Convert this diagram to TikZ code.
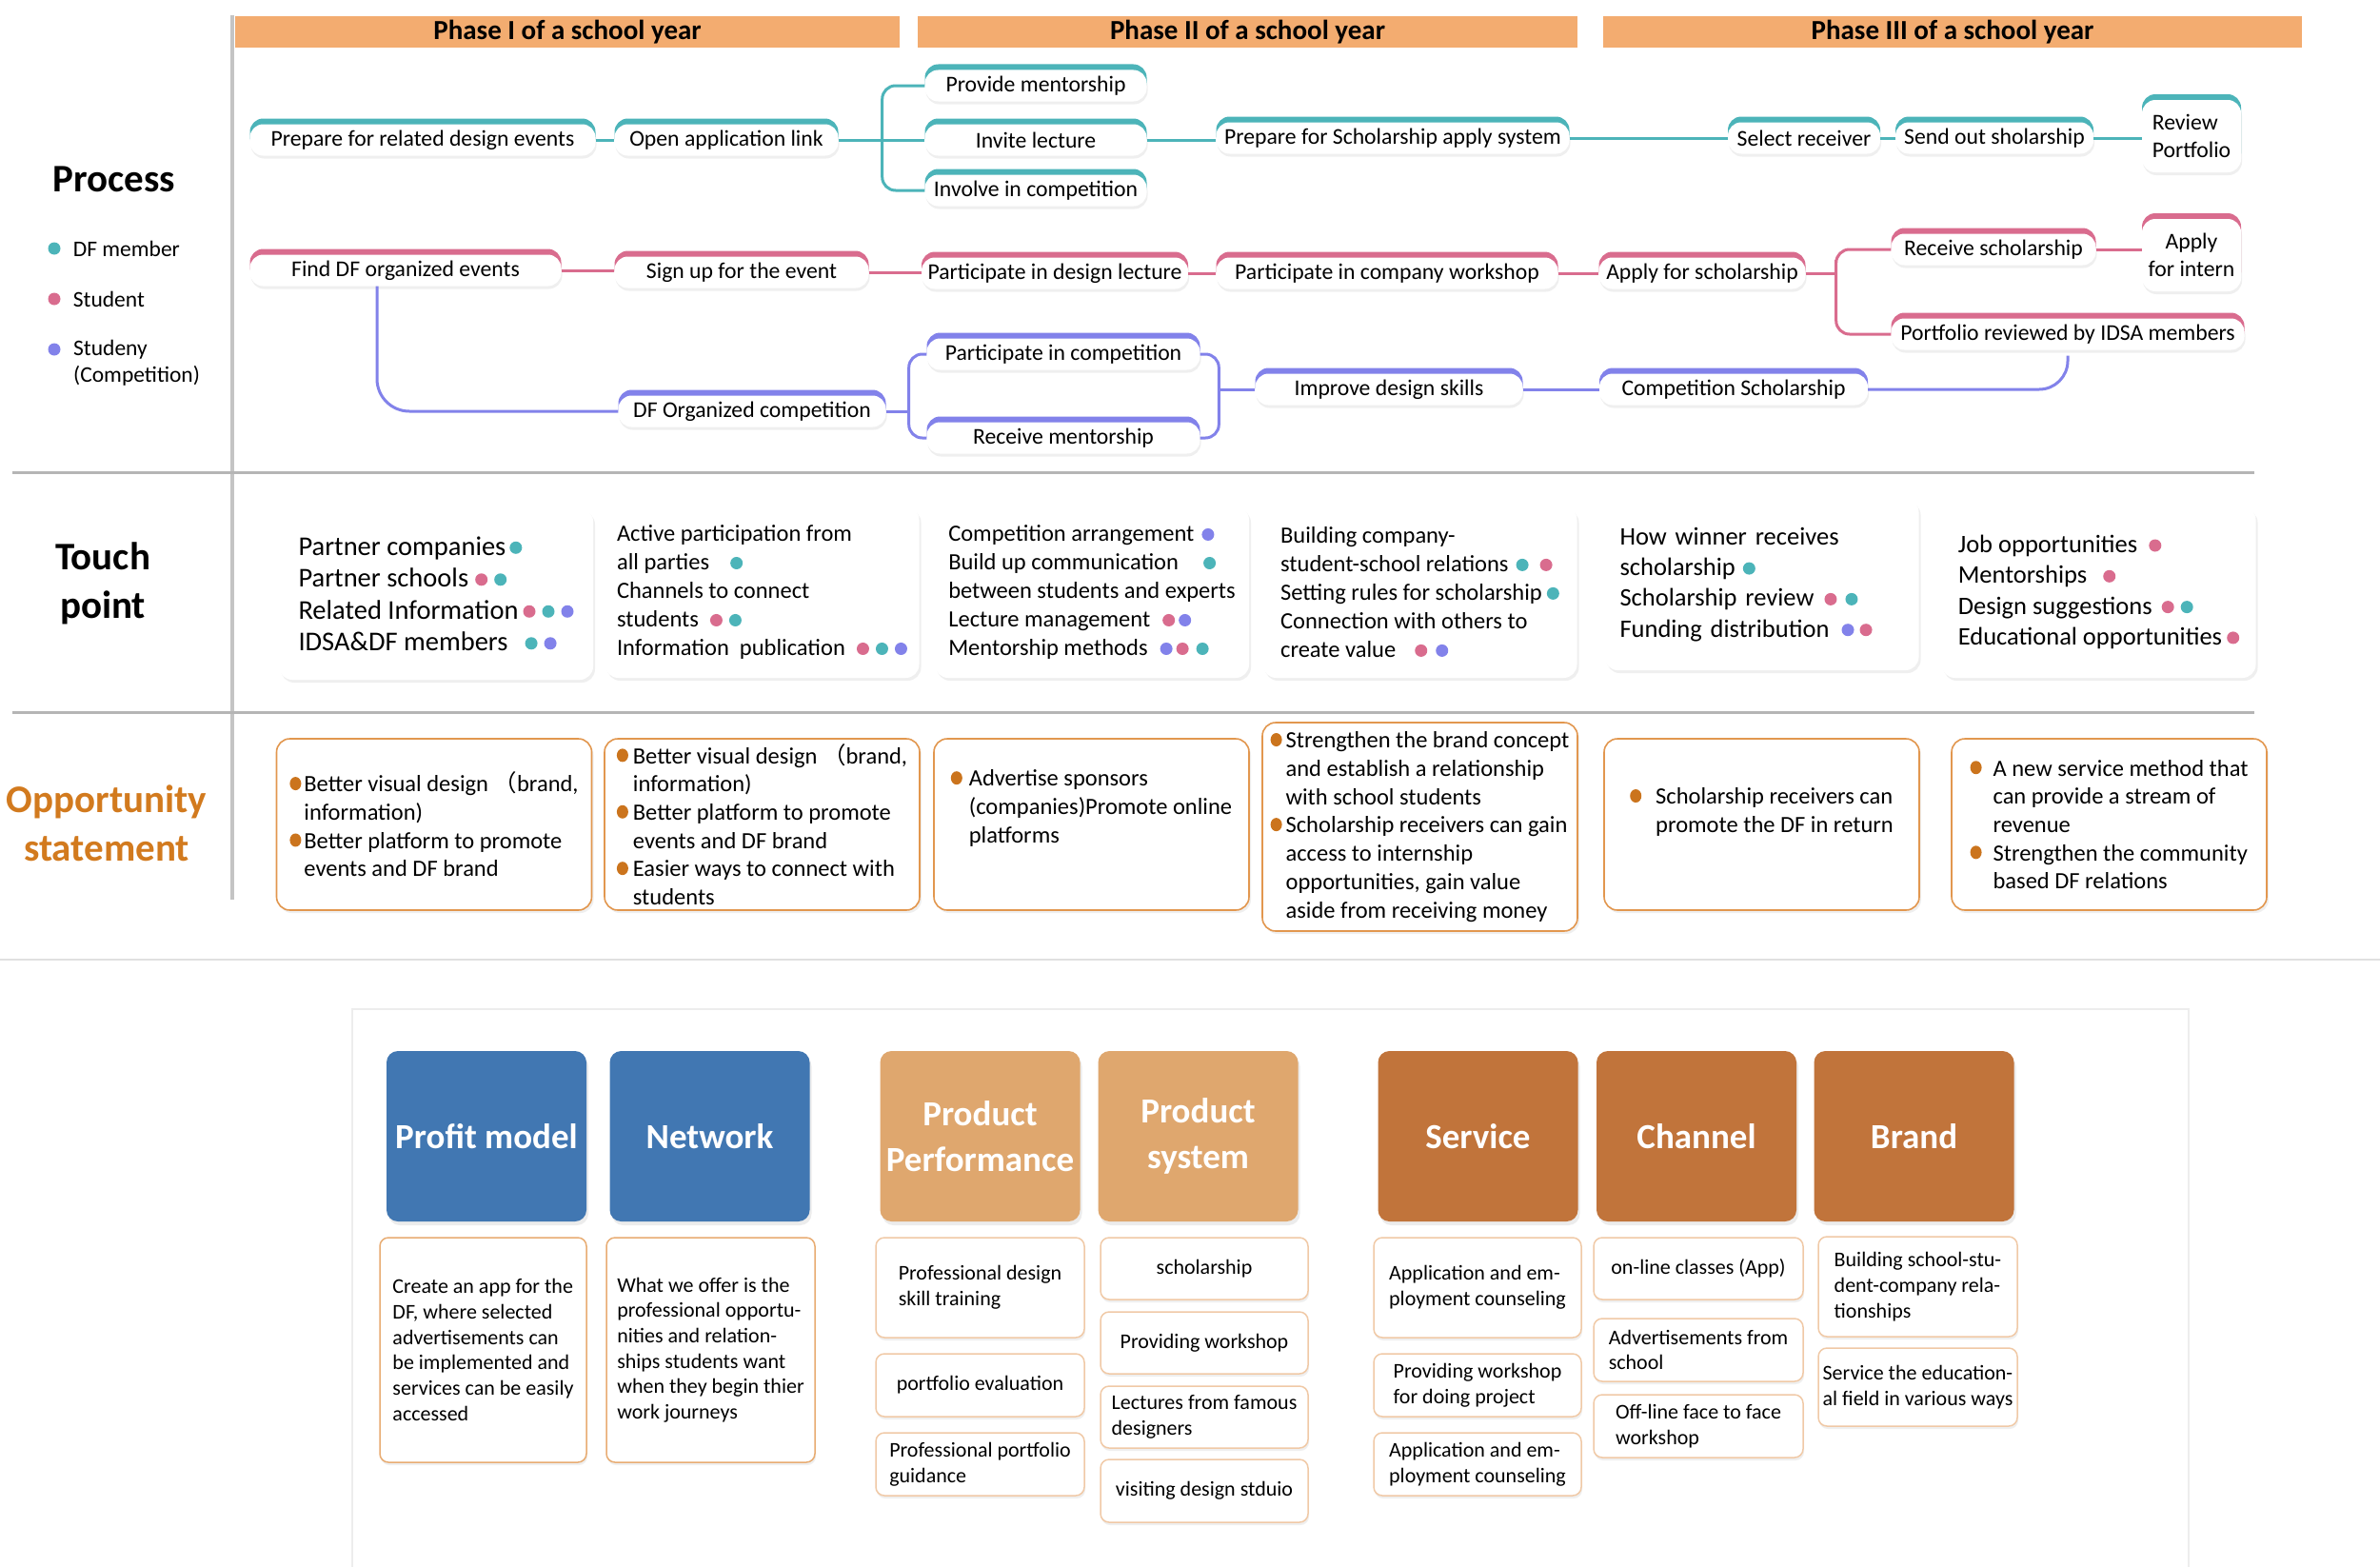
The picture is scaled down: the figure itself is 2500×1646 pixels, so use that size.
\documentclass[tikz,border=0pt]{standalone}
\usepackage{fontspec}
\setmainfont{Carlito}
\newfontfamily\cjk{Noto Sans CJK SC}
\usetikzlibrary{positioning, calc, shadows}
\usepackage{xcolor}
\definecolor{cTeal}{HTML}{4CB4B9}
\definecolor{cPink}{HTML}{D96C8E}
\definecolor{cPurple}{HTML}{8282EA}
\definecolor{cPhase}{HTML}{F3AC70}
\definecolor{cOppLine}{HTML}{E2974F}
\definecolor{cOppDot}{HTML}{CB741D}
\definecolor{cOppTitle}{HTML}{D27A1E}
\definecolor{cBlue}{HTML}{4177B2}
\definecolor{cTan}{HTML}{DFA76E}
\definecolor{cBrown}{HTML}{C1743B}
\definecolor{cCardLine}{HTML}{F0C9A6}
\definecolor{cRule}{HTML}{B5B5B5}

\newcommand\fProc{\fontsize{23.7}{28.5}\selectfont}
\newcommand\fTouch{\fontsize{24.5}{30}\selectfont}
\newcommand\fOpp{\fontsize{24.5}{29.7}\selectfont}
\newcommand\fCard{\fontsize{22}{26.7}\selectfont}
\newcommand\fLane{\fontsize{41}{51}\selectfont\bfseries}
\newcommand\fHead{\fontsize{37}{48}\selectfont\bfseries}
% coloured dots after touch point texts, bullets in the opportunity boxes
\newcommand\tdot[2][7pt]{\hspace{#1}\tikz[baseline=-0.6ex]\fill[#2] (0,0) circle (6.5pt);}
\newcommand\obul[1][17pt]{\makebox[#1][l]{\tikz[baseline=-0.75ex]\fill[cOppDot] (0,0) ellipse (6pt and 7pt);}}
\newcommand\oind[1][17pt]{\hspace*{#1}}

\tikzset{
  pnode/.style={
    fill=white, rounded corners=14pt, font=\fProc, align=center,
    minimum height=33pt, inner sep=0pt,
    drop shadow={opacity=0.12, shadow xshift=1pt, shadow yshift=-3pt},
    general shadow={fill=#1, shadow xshift=0pt, shadow yshift=6pt},
  },
  link/.style={draw=#1, line width=3pt},
  phasebar/.style={
    fill=cPhase, font=\fontsize{29}{33}\selectfont\bfseries,
    minimum height=33pt, inner sep=0pt,
  },
  lanetitle/.style={font=\fLane, align=center, inner sep=0pt},
  legdot/.style={circle, fill=#1, minimum size=13pt, inner sep=0pt},
  legtxt/.style={font=\fontsize{23.5}{28}\selectfont, inner sep=0pt, align=left},
  tbox/.style={
    fill=white, rounded corners=14pt, align=left, font=\fTouch,
    minimum width=330pt, minimum height=180pt, inner sep=0pt,
    drop shadow={opacity=0.12, shadow xshift=2pt, shadow yshift=-3pt},
  },
  obox/.style={
    draw=cOppLine, line width=1.6pt, fill=white, rounded corners=14pt,
    align=left, font=\fOpp, minimum width=331pt, minimum height=180pt,
    inner sep=0pt,
    drop shadow={opacity=0.12, shadow xshift=2pt, shadow yshift=-3pt},
  },
  hbox/.style={
    fill=#1, rounded corners=12pt, text=white, font=\fHead, align=center,
    minimum width=210pt, minimum height=179pt, inner sep=0pt,
    drop shadow={opacity=0.15, shadow xshift=2pt, shadow yshift=-4pt},
  },
  card/.style={
    draw=cCardLine, line width=1.5pt, fill=white, rounded corners=9pt,
    font=\fCard, align=left, inner sep=0pt,
    drop shadow={opacity=0.12, shadow xshift=1pt, shadow yshift=-3pt},
  },
  seprule/.style={draw=cRule, line width=3pt},
}

\begin{document}
\begin{tikzpicture}[x=1pt, y=-1pt]

  \path[use as bounding box, fill=white] (0,0) rectangle (2500,1646);

  % frame lines
  \draw[draw=cRule!80, line width=4pt] (244,16) -- (244,945);
  \draw[seprule] (13,496) -- (2368,496);
  \draw[seprule] (13,748) -- (2368,748);
  \draw[draw=black!12, line width=1.5pt] (0,1008) -- (2500,1008);
  \draw[draw=black!7, line width=1.5pt] (370,1646) -- (370,1060) -- (2299,1060) -- (2299,1646);

  % phases
  \node[phasebar, minimum width=698pt] (ph1) at (596,33.5) {Phase I of a school year};
  \node[phasebar, minimum width=693pt] (ph2) at (1310.5,33.5) {Phase II of a school year};
  \node[phasebar, minimum width=734pt] (ph3) at (2051,33.5) {Phase III of a school year};

  % lane titles and legend
  \node[lanetitle] (lProc) at (120,188) {Process};
  \node[lanetitle] (lTouch) at (108,613) {Touch\\point};
  \node[lanetitle, text=cOppTitle] (lOpp) at (112,865) {Opportunity\\statement};

  \node[legdot=cTeal] (lgDF) at (57,261) {};
  \node[legdot=cPink] (lgSt) at (57,314) {};
  \node[legdot=cPurple] (lgCo) at (57,367) {};
  \node[legtxt, right=13pt of lgDF] (lgDFt) {DF member};
  \node[legtxt, right=13pt of lgSt] (lgStt) {Student};
  \node[legtxt, anchor=west] (lgCot) at (77,381) {Studeny\\(Competition)};

  % Process: DF member
  \node[pnode=cTeal, minimum width=363pt] (prep) at (444,147) {Prepare for related design events};
  \node[pnode=cTeal, minimum width=235pt] (open) at (763,147) {Open application link};
  \node[pnode=cTeal, minimum width=233pt] (provide) at (1088,90) {Provide mentorship};
  \node[pnode=cTeal, minimum width=233pt] (invite) at (1088,147) {Invite lecture};
  \node[pnode=cTeal, minimum width=233pt] (involve) at (1088,200) {Involve in competition};
  \node[pnode=cTeal, minimum width=371pt] (psys) at (1463,145) {Prepare for Scholarship apply system};
  \node[pnode=cTeal, minimum width=160pt] (select) at (1895,145) {Select receiver};
  \node[pnode=cTeal, minimum width=208pt] (send) at (2095,145) {Send out sholarship};
  \node[pnode=cTeal, minimum width=104pt, minimum height=76pt, align=left] (review) at (2302,143) {Review\\Portfolio};

  % Process: student
  \node[pnode=cPink, minimum width=327pt] (find) at (426,284) {Find DF organized events};
  \node[pnode=cPink, minimum width=267pt] (signup) at (779,286) {Sign up for the event};
  \node[pnode=cPink, minimum width=280pt] (plect) at (1108,287) {Participate in design lecture};
  \node[pnode=cPink, minimum width=359pt] (pws) at (1457,287) {Participate in company workshop};
  \node[pnode=cPink, minimum width=217pt] (applys) at (1788,287) {Apply for scholarship};
  \node[pnode=cPink, minimum width=215pt] (recv) at (2094,262) {Receive scholarship};
  \node[pnode=cPink, minimum width=104pt, minimum height=76pt] (intern) at (2302,268) {Apply\\for intern};
  \node[pnode=cPink, minimum width=371pt] (prev) at (2172,351) {Portfolio reviewed by IDSA members};

  % Process: competition
  \node[pnode=cPurple, minimum width=281pt] (dfc) at (790,432) {DF Organized competition};
  \node[pnode=cPurple, minimum width=287pt] (pcomp) at (1117,372) {Participate in competition};
  \node[pnode=cPurple, minimum width=287pt] (rment) at (1117,460) {Receive mentorship};
  \node[pnode=cPurple, minimum width=281pt] (improve) at (1459,409) {Improve design skills};
  \node[pnode=cPurple, minimum width=282pt] (cschol) at (1821,409) {Competition Scholarship};

  % links, DF member
  \draw[link=cTeal] (prep) -- (open);
  \draw[link=cTeal] (open) -- (invite);
  \coordinate (b1) at ($(open.east)+(46,0)$);
  \draw[link=cTeal, rounded corners=14pt] (provide.west) -| (b1) |- (involve.west);
  \draw[link=cTeal] (invite.east) -- (invite.east -| psys.west);
  \draw[link=cTeal] (psys) -- (select);
  \draw[link=cTeal] (select) -- (send);
  \draw[link=cTeal] (send.east) -- (send.east -| review.west);

  % links, student
  \draw[link=cPink] (find.east) -- (find.east -| signup.west);
  \draw[link=cPink] (signup.east) -- (signup.east -| plect.west);
  \draw[link=cPink] (plect) -- (pws);
  \draw[link=cPink] (pws) -- (applys);
  \coordinate (b2) at ($(applys.east)+(32,0)$);
  \draw[link=cPink] (applys) -- (b2);
  \draw[link=cPink, rounded corners=14pt] (recv.west) -| (b2) |- (prev.west);
  \draw[link=cPink] (recv.east) -- (recv.east -| intern.west);

  % links, competition
  \draw[link=cPurple, rounded corners=34pt] ([xshift=-30pt]find.south) |- (dfc.west);
  \coordinate (b3) at ($(dfc.east)+(24,0)$);
  \draw[link=cPurple] (dfc) -- (b3);
  \draw[link=cPurple, rounded corners=14pt] (pcomp.west) -| (b3) |- (rment.west);
  \coordinate (b4) at ($(improve.west)+(-38,0)$);
  \draw[link=cPurple, rounded corners=14pt] (pcomp.east) -| (b4) |- (rment.east);
  \draw[link=cPurple] (b4) -- (improve);
  \draw[link=cPurple] (improve) -- (cschol);
  \draw[link=cPurple, rounded corners=30pt] (cschol.east) -| ([yshift=-6pt]prev.south);

  % Touch points
  \node[tbox, font=\fontsize{28.5}{33.5}\selectfont] (t1) at (458,624)
    {Partner companies\tdot[4pt]{cTeal}\\Partner schools\tdot{cPink}\tdot{cTeal}\\
     Related Information\tdot[5pt]{cPink}\tdot{cTeal}\tdot{cPurple}\\
     IDSA\&DF members\tdot[18pt]{cTeal}\tdot{cPurple}};
  \node[tbox] (t2) at (800.5,622)
    {Active participation from\\all parties\tdot[22pt]{cTeal}\\Channels to connect\\
     students\tdot[12pt]{cPink}\tdot{cTeal}\\
     Information\ \ publication\tdot[12pt]{cPink}\tdot{cTeal}\tdot{cPurple}};
  \node[tbox] (t3) at (1147,622)
    {Competition arrangement\tdot[8pt]{cPurple}\\Build up communication\tdot[26pt]{cTeal}\\
     between students and experts\\Lecture management\tdot[13pt]{cPink}\tdot[4pt]{cPurple}\\
     Mentorship methods\tdot[13pt]{cPurple}\tdot[4pt]{cPink}\tdot[8pt]{cTeal}};
  \node[tbox] (t4) at (1491.5,622)
    {Building company-\\student-school relations\tdot[8pt]{cTeal}\tdot[12pt]{cPink}\\
     Setting rules for scholarship\tdot[5pt]{cTeal}\\Connection with others to\\
     create value\tdot[20pt]{cPink}\tdot[9pt]{cPurple}};
  \node[tbox, font=\fontsize{26.5}{32.3}\selectfont, text width=298pt, inner xsep=16pt] (t5) at (1850.5,614)
    {How winner receives\\scholarship\tdot[8pt]{cTeal}\\
     Scholarship review\tdot[11pt]{cPink}\tdot[9pt]{cTeal}\\
     Funding distribution\tdot[13pt]{cPurple}\tdot[6pt]{cPink}};
  \node[tbox, font=\fontsize{26.5}{32.3}\selectfont] (t6) at (2204.5,622)
    {Job opportunities\tdot[12pt]{cPink}\\Mentorships\tdot[17pt]{cPink}\\
     Design suggestions\tdot[10pt]{cPink}\tdot[7pt]{cTeal}\\
     Educational opportunities\tdot[5pt]{cPink}};

  % Opportunity statements
  \node[obox] (o1) at (456,866)
    {\obul[15pt]Better visual design {\cjk （}brand,\\\oind[15pt]information)\\
     \obul[15pt]Better platform to promote\\\oind[15pt]events and DF brand};
  \node[obox] (o2) at (800.5,866)
    {\obul Better visual design {\cjk （}brand,\\\oind information)\\
     \obul Better platform to promote\\\oind events and DF brand\\
     \obul Easier ways to connect with\\\oind students};
  \node[obox] (o3) at (1146.5,866)
    {\obul[19pt]Advertise sponsors\\\oind[19pt](companies)Promote online\\
     \oind[19pt]platforms\\[8pt]\mbox{}};
  \node[obox, minimum height=219pt] (o4) at (1491.5,868.5)
    {\obul[16pt]Strengthen the brand concept\\\oind[16pt]and establish a relationship\\
     \oind[16pt]with school students\\\obul[16pt]Scholarship receivers can gain\\
     \oind[16pt]access to internship\\\oind[16pt]opportunities, gain value\\
     \oind[16pt]aside from receiving money};
  \node[obox] (o5) at (1850.5,866)
    {\obul[27pt]Scholarship receivers can\\\oind[27pt]promote the DF in return\\\mbox{}};
  \node[obox] (o6) at (2215.5,866)
    {\obul[24pt]A new service method that\\\oind[24pt]can provide a stream of\\
     \oind[24pt]revenue\\\obul[24pt]Strengthen the community\\\oind[24pt]based DF relations};

  % Business model headers
  \node[hbox=cBlue] (hPM) at (511,1193.5) {Profit model};
  \node[hbox=cBlue] (hNW) at (745.5,1193.5) {Network};
  \node[hbox=cTan] (hPP) at (1029.5,1193.5) {Product\\Performance};
  \node[hbox=cTan] (hPS) at (1258.5,1193.5) {Product\\system};
  \node[hbox=cBrown] (hSV) at (1552.5,1193.5) {Service};
  \node[hbox=cBrown] (hCH) at (1782,1193.5) {Channel};
  \node[hbox=cBrown] (hBR) at (2010.5,1193.5) {Brand};

  % Cards
  \node[card, draw=cOppLine!80, minimum width=217pt, minimum height=236pt] (cPM) at (507.5,1418)
    {Create an app for the\\DF, where selected\\advertisements can\\be implemented and\\services can be easily\\accessed};
  \node[card, draw=cOppLine!80, minimum width=219pt, minimum height=236pt] (cNW) at (746.5,1418)
    {What we offer is the\\professional opportu-\\nities and relation-\\ships students want\\when they begin thier\\work journeys};

  \node[card, minimum width=219pt, minimum height=105pt] (cPP1) at (1029.5,1352.5) {Professional design\\skill training};
  \node[card, minimum width=219pt, minimum height=66pt] (cPP2) at (1029.5,1455) {portfolio evaluation};
  \node[card, minimum width=219pt, minimum height=66pt] (cPP3) at (1029.5,1538) {Professional portfolio\\guidance};

  \node[card, minimum width=218pt, minimum height=65pt] (cPS1) at (1265,1332.5) {scholarship};
  \node[card, minimum width=218pt, minimum height=65pt] (cPS2) at (1265,1410.5) {Providing workshop};
  \node[card, minimum width=218pt, minimum height=65pt] (cPS3) at (1265,1488.5) {Lectures from famous\\designers};
  \node[card, minimum width=218pt, minimum height=66pt] (cPS4) at (1265,1566) {visiting design stduio};

  \node[card, minimum width=218pt, minimum height=105pt] (cSV1) at (1552,1352.5) {Application and em-\\ployment counseling};
  \node[card, minimum width=218pt, minimum height=66pt] (cSV2) at (1552,1455) {Providing workshop\\for doing project};
  \node[card, minimum width=218pt, minimum height=66pt] (cSV3) at (1552,1538) {Application and em-\\ployment counseling};

  \node[card, minimum width=220pt, minimum height=65pt] (cCH1) at (1784,1332.5) {on-line classes (App)};
  \node[card, minimum width=220pt, minimum height=66pt] (cCH2) at (1784,1418) {Advertisements from\\school};
  \node[card, minimum width=220pt, minimum height=66pt] (cCH3) at (1784,1498) {Off-line face to face\\workshop};

  \node[card, minimum width=209pt, minimum height=105pt] (cBR1) at (2014.5,1351.5) {Building school-stu-\\dent-company rela-\\tionships};
  \node[card, minimum width=209pt, minimum height=82pt] (cBR2) at (2014.5,1457) {Service the education-\\al field in various ways};

\end{tikzpicture}
\end{document}
